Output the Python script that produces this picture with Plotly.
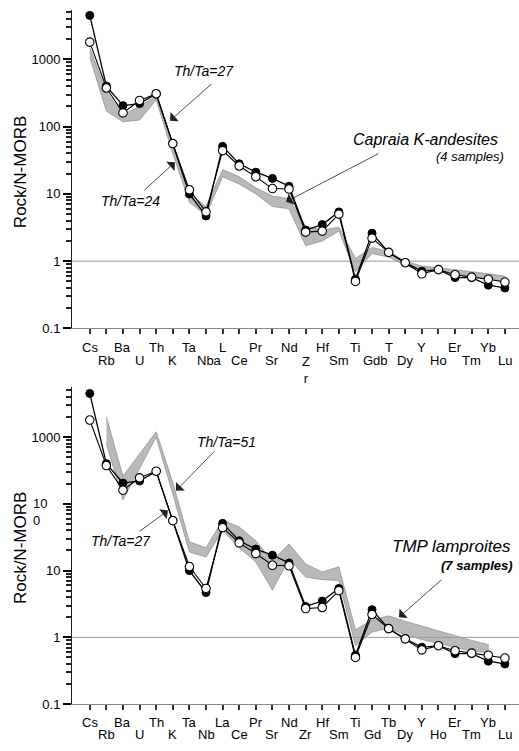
import numpy as np
import plotly.graph_objects as go

W, H = 519, 751

elements = ["Cs", "Rb", "Ba", "U", "Th", "K", "Ta", "Nb", "La", "Ce", "Pr", "Sr", "Nd",
            "Zr", "Hf", "Sm", "Ti", "Gd", "Tb", "Dy", "Y", "Ho", "Er", "Tm", "Yb", "Lu"]
# tick labels as printed in the top panel of the original figure
top_tick_text = ["Cs", "Rb", "Ba", "U", "Th", "K", "Ta", "Nba", "L", "Ce", "Pr", "Sr", "Nd",
                 "Z<br>r", "Hf", "Sm", "Ti", "Gdb", "T", "Dy", "Y", "Ho", "Er", "Tm", "Yb", "Lu"]
bottom_tick_text = elements

# sample (filled circles)
sample_filled = [4500, 400, 205, 220, 305, 56, 10.0, 4.7, 51, 28, 21, 17, 13,
                 2.9, 3.5, 5.4, 0.54, 2.6, 1.35, 0.95, 0.71, 0.75, 0.57, 0.57, 0.44, 0.40]
# sample (open circles)
sample_open = [1800, 375, 160, 245, 308, 56, 11.5, 5.4, 44, 26, 18, 12, 11.8,
               2.7, 2.8, 5.0, 0.50, 2.2, 1.35, 0.95, 0.65, 0.75, 0.63, 0.58, 0.54, 0.49]

# Capraia K-andesites field (4 samples)
capraia_upper = [1500, 330, 150, 200, 285, 52, 10.0, 6.5, 23, 18, 12.3, 9.3, 8.5,
                 3.3, 2.9, 3.2, 1.1, 1.6, 1.4, 1.0, 0.85, 0.8, 0.75, 0.7, 0.65, 0.6]
capraia_lower = [1070, 170, 118, 125, 250, 40, 7.5, 4.8, 18, 14, 10.0, 6.5, 6.0,
                 1.7, 2.0, 2.8, 0.7, 1.3, 1.15, 0.87, 0.72, 0.7, 0.64, 0.6, 0.54, 0.5]

# TMP lamproites field (7 samples), Rb..Yb
tmp_upper = [None, 2000, 260, 560, 1200, 210, 27, 22, 57, 45, 28, 14, 25,
             12.6, 9.5, 11.4, 1.3, 1.8, 2.1, 1.74, 1.47, 1.24, 1.05, 0.9, 0.78, None]
tmp_lower = [None, 800, 115, 340, 1000, 140, 19, 16, 40, 22, 13.5, 5.1, 15,
             8.0, 7.3, 7.1, 0.75, 1.2, 1.37, 1.09, 0.93, 0.8, 0.71, 0.62, 0.59, None]

ytick_vals = [0.1, 1, 10, 100, 1000]
ytick_text_top = ["0.1", "1", "10", "100", "1000"]
ytick_text_bottom = ["0.1", "1", "10", "", "1000"]
bottom_odd_label = "10<br>0"   # the '100' label as printed in the lower panel
minor_vals = [k * 10.0 ** e for e in range(-1, 4) for k in range(2, 10)]

FONT = "Liberation Sans, Arial, Helvetica, sans-serif"
xi = list(range(len(elements)))
XR = [-1.07, 25.85]
YR_TOP = [-1, 3.735]
YR_BOT = [-1, 3.757]


def px_x(p):
    return p / W


def px_y(p):
    return 1 - p / H


def band(xref, yref, upper, lower):
    xs, ys = [], []
    for i, v in enumerate(upper):
        if v is not None:
            xs.append(i); ys.append(v)
    for i in reversed(range(len(lower))):
        if lower[i] is not None:
            xs.append(i); ys.append(lower[i])
    return go.Scatter(x=xs, y=ys, xaxis=xref, yaxis=yref, mode="lines", fill="toself",
                      fillcolor="#b9b9b9", line=dict(color="#8a8a8a", width=0.7),
                      hoverinfo="skip", showlegend=False)


fig = go.Figure()
for xa, ya, ym, up, lo in [("x", "y", "y3", capraia_upper, capraia_lower),
                           ("x2", "y2", "y4", tmp_upper, tmp_lower)]:
    # invisible trace to carry the minor-tick axis
    fig.add_trace(go.Scatter(x=[0], y=[1], xaxis=xa, yaxis=ym, mode="markers",
                             marker=dict(opacity=0), hoverinfo="skip", showlegend=False))
    fig.add_trace(band(xa, ya, up, lo))
    fig.add_trace(go.Scatter(x=XR, y=[1, 1], xaxis=xa, yaxis=ya, mode="lines",
                             line=dict(color="#9a9a9a", width=1), hoverinfo="skip",
                             showlegend=False))
    fig.add_trace(go.Scatter(x=xi, y=sample_filled, xaxis=xa, yaxis=ya, mode="lines+markers",
                             line=dict(color="black", width=1.3),
                             marker=dict(size=8, color="black", line=dict(color="black", width=1)),
                             showlegend=False))
    fig.add_trace(go.Scatter(x=xi, y=sample_open, xaxis=xa, yaxis=ya, mode="lines+markers",
                             line=dict(color="black", width=1.1),
                             marker=dict(size=8.5, color="white", line=dict(color="black", width=1.1)),
                             showlegend=False))

xaxis_common = dict(range=XR, showline=True, linecolor="#8a8a8a", linewidth=1,
                    ticks="outside", ticklen=5, tickwidth=1.5, tickcolor="#333",
                    tickmode="array", tickvals=xi,
                    showticklabels=False, showgrid=False, zeroline=False, fixedrange=True)


def yaxis_major(rng, text):
    return dict(type="log", range=rng, showline=True, linecolor="#222", linewidth=1,
                ticks="outside", ticklen=8, tickwidth=1.5, tickcolor="black", tickmode="array",
                tickvals=ytick_vals, ticktext=text,
                tickfont=dict(family=FONT, size=13, color="black"),
                showgrid=False, zeroline=False, fixedrange=True)


def yaxis_minor(rng, over, anchor):
    return dict(type="log", range=rng, overlaying=over, anchor=anchor, side="left",
                showline=False, ticks="outside", ticklen=5, tickwidth=1.5, tickcolor="#222",
                tickmode="array", tickvals=minor_vals, showticklabels=False,
                showgrid=False, zeroline=False, fixedrange=True)


fig.update_layout(
    width=W, height=H, margin=dict(l=0, r=0, t=0, b=0),
    paper_bgcolor="white", plot_bgcolor="white",
    font=dict(family=FONT, color="black"),
    xaxis=dict(domain=[px_x(72), 1], anchor="y", **xaxis_common),
    yaxis=dict(domain=[px_y(332), px_y(10)], anchor="x", **yaxis_major(YR_TOP, ytick_text_top)),
    xaxis2=dict(domain=[px_x(72), 1], anchor="y2", **xaxis_common),
    yaxis2=dict(domain=[px_y(711.7), px_y(390.7)], anchor="x2",
                **yaxis_major(YR_BOT, ytick_text_bottom)),
    yaxis3=yaxis_minor(YR_TOP, "y", "x"),
    yaxis4=yaxis_minor(YR_BOT, "y2", "x2"),
)

ann = []
# x tick labels (staggered)
for xr, texts, r1, r2 in [("x", top_tick_text, 351, 364), ("x2", bottom_tick_text, 730, 742)]:
    for i, t in enumerate(texts):
        yc = r1 if i % 2 == 0 else r2
        if "<br>" in t:
            ann.append(dict(x=i, y=px_y(yc - 7), xref=xr, yref="paper", text=t, showarrow=False,
                            xanchor="center", yanchor="top", font=dict(size=13), borderpad=0))
        else:
            shift = 3 if len(t) == 3 else 0
            ann.append(dict(x=i, y=px_y(yc), xref=xr, yref="paper", text=t, showarrow=False,
                            xanchor="center", yanchor="middle", xshift=shift,
                            font=dict(size=13), borderpad=0))

# garbled '100' label of lower panel
ann.append(dict(x=px_x(32), y=px_y(500), xref="paper", yref="paper", text=bottom_odd_label,
                showarrow=False, xanchor="left", yanchor="top", align="left",
                font=dict(size=13), borderpad=0))

# y-axis titles
for yc in (174, 554):
    ann.append(dict(x=px_x(20), y=px_y(yc), xref="paper", yref="paper", text="Rock/N-MORB",
                    textangle=-90, showarrow=False, xanchor="center", yanchor="middle",
                    font=dict(size=17)))

# labels
labels = [
    ("<i>Th/Ta=27</i>", 204, 72, 14),
    ("<i>Th/Ta=24</i>", 130, 203, 14),
    ("<i>Capraia K-andesites</i>", 425, 141, 16),
    ("<i>(4 samples)</i>", 470, 158, 13),
    ("<i>Th/Ta=51</i>", 226, 447, 14),
    ("<i>Th/Ta=27</i>", 121, 547, 14),
    ("<i>TMP lamproites</i>", 451, 552, 17),
    ("<b><i>(7 samples)</i></b>", 477, 572, 13),
]
for t, x, y, s in labels:
    ann.append(dict(x=px_x(x), y=px_y(y), xref="paper", yref="paper", text=t, showarrow=False,
                    xanchor="center", yanchor="middle", font=dict(size=s)))

# arrows: (head x, head y, tail x, tail y)
arrows = [
    (170, 122, 213, 84),
    (175, 164, 143, 193),
    (286, 204, 380, 155),
    (176, 496, 216, 455),
    (168, 516, 138, 538),
    (399, 624, 443, 585),
]
for hx, hy, tx, ty in arrows:
    ann.append(dict(x=px_x(hx), y=px_y(hy), xref="paper", yref="paper", text="",
                    xanchor="center", yanchor="middle",
                    showarrow=True, ax=tx - hx, ay=ty - hy, arrowhead=1, arrowsize=2.6,
                    arrowwidth=0.8, arrowcolor="#222", standoff=0, startstandoff=0))

fig.update_layout(annotations=ann)
fig.write_html("out.html")
